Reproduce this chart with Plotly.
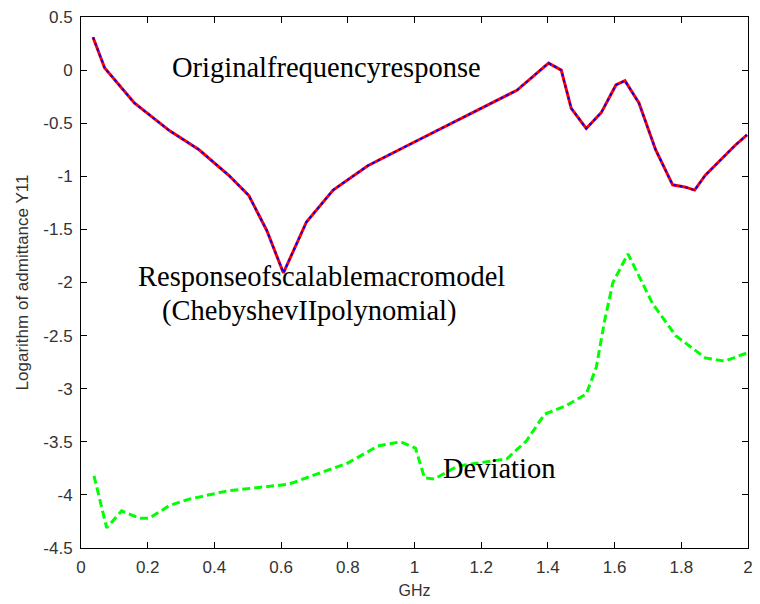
import plotly.graph_objects as go

orig_x = [0.036, 0.071, 0.16, 0.265, 0.354, 0.443, 0.503, 0.557, 0.607, 0.676, 0.756, 0.86, 0.979,
          1.098, 1.217, 1.307, 1.402, 1.44, 1.47, 1.515, 1.56, 1.604, 1.631, 1.673, 1.723, 1.774,
          1.81, 1.84, 1.872, 1.917, 1.961, 1.997]
orig_y = [0.31, 0.02, -0.31, -0.57, -0.75, -0.99, -1.18, -1.51, -1.91, -1.43, -1.13, -0.90, -0.71,
          -0.52, -0.33, -0.19, 0.066, 0.0, -0.36, -0.55, -0.40, -0.14, -0.10, -0.31, -0.75, -1.08,
          -1.10, -1.13, -0.99, -0.85, -0.71, -0.61]

dev_x = [0.039, 0.077, 0.122, 0.176, 0.205, 0.265, 0.324, 0.384, 0.443, 0.533, 0.622, 0.711, 0.80,
         0.89, 0.958, 1.003, 1.03, 1.06, 1.128, 1.19, 1.277, 1.336, 1.39, 1.455, 1.515, 1.545,
         1.57, 1.595, 1.64, 1.714, 1.783, 1.872, 1.93, 2.0]
dev_y = [-3.82, -4.31, -4.15, -4.22, -4.22, -4.10, -4.04, -4.0, -3.96, -3.93, -3.90, -3.80, -3.70,
         -3.54, -3.50, -3.56, -3.84, -3.85, -3.73, -3.70, -3.66, -3.49, -3.24, -3.16, -3.05, -2.80,
         -2.36, -2.0, -1.73, -2.20, -2.50, -2.71, -2.74, -2.66]

x_ticks = [0, 0.2, 0.4, 0.6, 0.8, 1, 1.2, 1.4, 1.6, 1.8, 2]
x_labels = ["0", "0.2", "0.4", "0.6", "0.8", "1", "1.2", "1.4", "1.6", "1.8", "2"]
y_ticks = [0.5, 0, -0.5, -1, -1.5, -2, -2.5, -3, -3.5, -4, -4.5]
y_labels = ["0.5", "0", "-0.5", "-1", "-1.5", "-2", "-2.5", "-3", "-3.5", "-4", "-4.5"]

fig = go.Figure()
fig.add_trace(go.Scatter(x=orig_x, y=orig_y, mode="lines",
                         line=dict(color="red", width=3)))
fig.add_trace(go.Scatter(x=orig_x, y=orig_y, mode="lines",
                         line=dict(color="blue", width=2, dash="dot")))
fig.add_trace(go.Scatter(x=dev_x, y=dev_y, mode="lines",
                         line=dict(color="rgb(0,255,0)", width=3, dash="8px,4px")))

tfont = dict(family="Liberation Serif, Times New Roman, serif", size=28.5, color="black")
fig.add_annotation(x=0.735, y=0.028, text="Originalfrequencyresponse", showarrow=False, font=tfont)
fig.add_annotation(x=0.72, y=-1.94, text="Responseofscalablemacromodel", showarrow=False, font=tfont)
fig.add_annotation(x=0.685, y=-2.27, text="(ChebyshevIIpolynomial)", showarrow=False, font=tfont)
fig.add_annotation(x=1.253, y=-3.75, text="Deviation", showarrow=False, font=tfont)

axis_common = dict(showgrid=False, zeroline=False, showline=True, linecolor="black", linewidth=1,
                   mirror="ticks", ticks="inside", ticklen=6, tickcolor="black",
                   tickfont=dict(family="Liberation Sans, Arial, sans-serif", size=17, color="#333"))
fig.update_xaxes(range=[0, 2], tickvals=x_ticks, ticktext=x_labels, ticklabelstandoff=4,
                 title=dict(text="GHz", font=dict(family="Liberation Sans, Arial", size=16, color="#333"),
                            standoff=8), **axis_common)
fig.update_yaxes(range=[-4.5, 0.5], tickvals=y_ticks, ticktext=y_labels, ticklabelstandoff=4,
                 title=dict(text="Logarithm of admittance Y11",
                            font=dict(family="Liberation Sans, Arial", size=17, color="#333"), standoff=10),
                 **axis_common)
fig.update_layout(width=760, height=604, showlegend=False,
                  margin=dict(l=81, r=7, t=17, b=56),
                  plot_bgcolor="white", paper_bgcolor="white")
fig.write_html("out.html")
